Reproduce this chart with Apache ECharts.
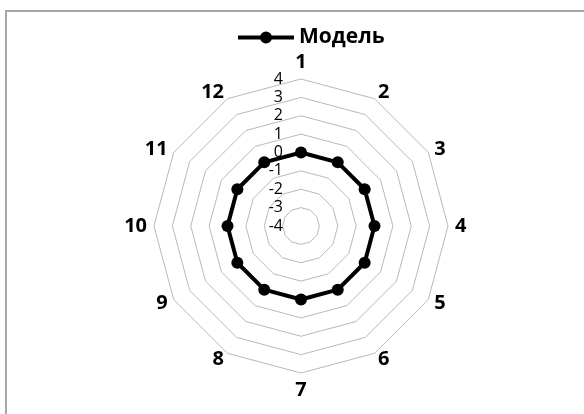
<!DOCTYPE html>
<html>
<head>
<meta charset="utf-8">
<script src="https://cdn.jsdelivr.net/npm/echarts@6/dist/echarts.min.js"></script>
<style>
    html, body { margin: 0; padding: 0; background: #fff; overflow: hidden; }
    #frame { position: absolute; left: 5px; top: 10px; width: 620px; height: 460px; border: 2px solid #a6a6a6; }
    #main { position: absolute; left: 0; top: 0; width: 584px; height: 414px; }
</style>
</head>
<body>
<div id="frame"></div>
<div id="main"></div>
<script type="text/javascript">
    // categories of the radar (clockwise from top)
    var categories = ['1', '2', '3', '4', '5', '6', '7', '8', '9', '10', '11', '12'];
    var modelValues = [0, 0, 0, 0, 0, 0, 0, 0, 0, 0, 0, 0];
    var tickLabels = ['-4', '-3', '-2', '-1', '0', '1', '2', '3', '4'];
    var seriesName = 'Модель';

    var axisMin = -4, axisMax = 4;
    var font = '"Open Sans", "Noto Sans", sans-serif';
    var cx = 301, cy = 226, r = 147;

    // echarts radar goes counterclockwise, so keep the first one on top and flip the rest
    function toCcw(arr) {
        return [arr[0]].concat(arr.slice(1).reverse());
    }
    var indicator = toCcw(categories).map(function (c) {
        return {name: c, min: axisMin, max: axisMax};
    });

    var myChart = echarts.init(document.getElementById('main'));
    var option = {
        animation: false,
        legend: {
            left: 233,
            top: 22,
            itemWidth: 56,
            itemHeight: 12,
            textStyle: {fontSize: 21, fontWeight: 'bold', color: '#000', fontFamily: font},
            data: [{
                name: seriesName,
                icon: 'path://M0,5 h56 v4 h-56 z M22,7 a6,6 0 1 1 12,0 a6,6 0 1 1 -12,0 z',
                itemStyle: {color: '#000'}
            }]
        },
        radar: {
            center: [cx, cy],
            radius: r,
            startAngle: 90,
            shape: 'polygon',
            splitNumber: tickLabels.length - 1,
            indicator: indicator,
            axisName: {color: '#000', fontSize: 20, fontWeight: 'bold', fontFamily: font},
            nameGap: 7,
            axisLine: {show: false},
            axisTick: {show: false},
            axisLabel: {show: false},
            splitArea: {show: false},
            splitLine: {lineStyle: {color: '#b8b8b8', width: 1}}
        },
        // value labels along the top spoke
        grid: {left: cx, top: cy - r, height: r, width: 1},
        xAxis: {type: 'value', show: false},
        yAxis: {
            type: 'value',
            min: axisMin,
            max: axisMax,
            interval: 1,
            axisLine: {show: false},
            axisTick: {show: false},
            splitLine: {show: false},
            axisLabel: {
                margin: 18,
                fontSize: 16,
                color: '#000',
                fontFamily: font,
                formatter: function (v) { return tickLabels[v - axisMin]; }
            }
        },
        series: [{
            name: seriesName,
            type: 'radar',
            symbol: 'circle',
            symbolSize: 12,
            lineStyle: {color: '#000', width: 4},
            itemStyle: {color: '#000'},
            data: [{value: toCcw(modelValues), name: seriesName}]
        }]
    };
    myChart.setOption(option);
</script>
</body>
</html>
